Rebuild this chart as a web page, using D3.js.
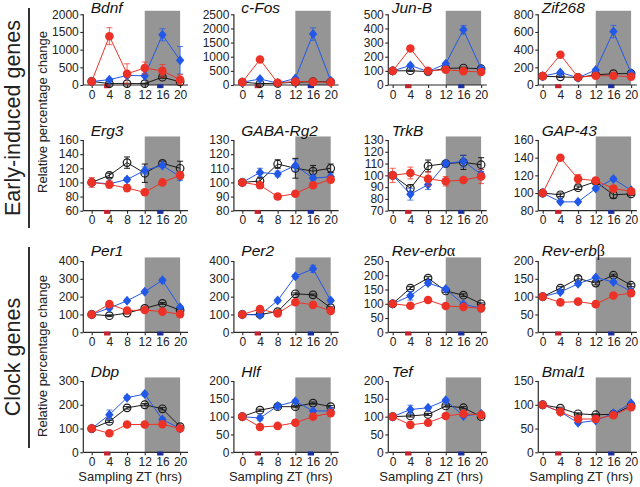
<!DOCTYPE html>
<html><head><meta charset="utf-8">
<script src="https://cdn.jsdelivr.net/npm/d3@7"></script>
<style>
body{margin:0;background:#fff}
svg{display:block;font-family:"Liberation Sans",Arial,Helvetica,sans-serif}
</style>
</head><body><svg id="c" width="640" height="487"></svg>
<script>
// ---------------- DATA ----------------
const hours = [0, 4, 8, 12, 16, 20];
const genes = ["Bdnf","c-Fos","Jun-B","Zif268","Erg3","GABA-Rg2","TrkB","GAP-43",
               "Per1","Per2","Rev-erbα","Rev-erbβ","Dbp","Hlf","Tef","Bmal1"];
const yMin  = [0,0,0,0, 60,80,70,80, 0,0,0,0, 0,0,0,0];
const yMax  = [2000,2500,500,800, 160,130,130,160, 400,400,250,200, 300,200,200,150];
const yStep = [500,500,100,200, 20,10,10,20, 100,100,50,50, 100,50,50,50];
const xTickLabels = ["0","4","8","12","16","20"];
const darkPeriod = [12, 20];
const redMarkHours = [2.8, 4.1];
const blueMarkHours = [14.8, 16.1];
const groupLabels = ["Early-induced genes", "Clock genes"];
const yLabel = "Relative percentage change";
const xLabel = "Sampling ZT (hrs)";

const blackVals = [
 [100,40,40,40,220,90],[100,50,60,100,120,110],[100,101,95,118,120,115],[100,92,85,115,128,130],
 [100,110,128,113,127,120],[100,101,113,110,108,110],[100,89,108,110,111,109],[100,98,106,113,98,99],
 [100,93,108,134,162,124],[100,100,116,216,210,138],[100,155,190,145,130,100],[100,124,151,138,160,132],
 [100,130,187,200,183,108],[100,118,128,128,138,128],[100,102,106,130,125,100],[100,93,81,79,80,98]];
const blackErr = [
 [10,10,10,10,30,20],[10,10,10,10,15,10],[5,5,5,5,6,5],[5,8,5,5,8,5],
 [3,3,8,13,3,10],[1,2,3,7,4,3],[2,3,5,2,6,6],[2,2,2,3,4,2],
 [3,5,5,5,5,5],[3,3,5,5,5,5],[3,5,5,5,5,3],[2,4,7,5,3,4],
 [3,5,5,5,5,3],[2,3,3,3,3,3],[2,3,3,3,3,3],[2,2,2,2,2,2]];
const redVals = [
 [100,1380,320,480,400,150],[100,900,80,120,110,100],[100,258,100,108,98,92],[100,342,88,105,105,95],
 [100,97,92,86,100,110],[100,98,90,92,98,102],[100,102,97,95,96,99],[100,140,116,114,105,102],
 [100,158,122,125,116,102],[100,130,106,169,154,120],[100,93,113,92,89,84],[100,84,86,79,103,110],
 [100,80,117,117,118,100],[100,71,74,83,100,110],[100,77,83,102,108,105],[100,85,70,70,78,95]];
const redErr = [
 [30,240,280,170,180,140],[15,40,15,20,15,15],[5,8,5,5,5,5],[8,15,8,8,8,8],
 [7,5,5,2,2,5],[1,2,2,1,1,2],[6,5,6,4,2,6],[2,2,5,2,3,2],
 [3,8,5,5,5,3],[3,5,5,8,5,5],[3,5,5,3,3,3],[2,3,3,2,3,3],
 [3,3,3,3,3,3],[2,2,2,2,2,2],[2,2,2,2,2,2],[2,2,6,6,2,2]];
const blueVals = [
 [100,150,270,260,1420,700],[100,210,70,230,1800,150],[100,138,95,150,390,115],[100,142,82,170,605,135],
 [100,98,104,117,124,108],[100,107,106,112,103,104],[100,84,92,110,112,101],[100,90,90,105,116,103],
 [100,136,177,228,292,141],[100,97,178,314,356,178],[100,128,173,152,98,85],[100,113,136,154,141,115],
 [100,158,230,245,138,100],[100,96,130,143,116,116],[100,120,125,146,102,108],[100,85,62,67,82,103]];
const blueErr = [
 [10,40,50,40,170,390],[10,40,15,30,220,30],[5,10,5,8,30,8],[5,12,8,10,70,10],
 [3,3,3,5,3,5],[1,3,2,4,2,2],[2,5,4,2,5,4],[1,1,1,2,2,2],
 [3,5,8,8,10,8],[3,5,8,10,20,8],[3,15,8,5,5,3],[2,5,5,4,4,4],
 [3,20,8,8,8,3],[2,6,5,4,4,4],[2,12,4,4,3,4],[2,2,3,3,2,3]];

// ---------------- LAYOUT ----------------
const colX0 = [91.7, 242.3, 392.7, 542.7];
const plotW = 88.4;
const axisLeftHr = [-1.9, -1.9, -1.0, -1.0];
const axisRightHr = [21.8, 21.8, 21.3, 21.3];
const rowTop = [14.3, 140, 261, 381];
const rowBottom = [85, 210.7, 332.3, 452.3];
const titleY = [12.5, 135.5, 256.2, 376.5];

const RED = "#ec3226", BLUE = "#2258e8", BLACK = "#1a1a1a", AX = "#2a2a2a";

const svg = d3.select("#c");

genes.forEach((g, i) => {
  const r = Math.floor(i / 4), c = i % 4;
  const x = d3.scaleLinear().domain([0, 20]).range([colX0[c], colX0[c] + plotW]);
  const y = d3.scaleLinear().domain([yMin[i], yMax[i]]).range([rowBottom[r], rowTop[r]]);
  const top = yMax[i] + 0.05 * (yMax[i] - yMin[i]);
  const p = svg.append("g");

  // dark period shading
  p.append("rect").attr("x", x(darkPeriod[0])).attr("width", x(darkPeriod[1]) - x(darkPeriod[0]))
    .attr("y", y(top)).attr("height", y(yMin[i]) - y(top)).attr("fill", "#959595");

  const ax0 = x(axisLeftHr[c]);
  // y axis
  const ya = p.append("g").attr("transform", `translate(${ax0},0)`)
    .call(d3.axisLeft(y).tickValues(d3.range(yMin[i], yMax[i] + yStep[i] / 2, yStep[i]))
      .tickSize(3).tickPadding(1.5).tickFormat(d3.format("d")));
  ya.select(".domain").remove();
  ya.selectAll("line").attr("stroke", AX).attr("stroke-width", 1.1);
  ya.selectAll("text").attr("font-size", 12).attr("fill", "#222")
    .attr("font-family", '"Liberation Sans",Arial,sans-serif');
  p.append("line").attr("x1", ax0).attr("x2", ax0).attr("y1", y(yMin[i])).attr("y2", y(yMax[i]))
    .attr("stroke", AX).attr("stroke-width", 1.2);

  // x axis
  const xa = p.append("g").attr("transform", `translate(0,${y(yMin[i])})`)
    .call(d3.axisBottom(x).tickValues(hours).tickSize(3).tickPadding(2)
      .tickFormat((d, k) => xTickLabels[k]));
  xa.select(".domain").remove();
  xa.selectAll("line").attr("stroke", AX).attr("stroke-width", 1.1);
  xa.selectAll("text").attr("font-size", 12).attr("fill", "#222")
    .attr("font-family", '"Liberation Sans",Arial,sans-serif');
  p.append("line").attr("x1", ax0).attr("x2", x(axisRightHr[c])).attr("y1", y(yMin[i])).attr("y2", y(yMin[i]))
    .attr("stroke", AX).attr("stroke-width", 1.2);

  // stimulation marks
  const by = y(yMin[i]);
  p.append("rect").attr("x", x(redMarkHours[0])).attr("width", x(redMarkHours[1]) - x(redMarkHours[0]))
    .attr("y", by - 0.8).attr("height", 4).attr("fill", "#c8202c");
  p.append("rect").attr("x", x(blueMarkHours[0])).attr("width", x(blueMarkHours[1]) - x(blueMarkHours[0]))
    .attr("y", by - 0.8).attr("height", 4).attr("fill", "#1c2fa0");

  // title
  const t = p.append("text").attr("x", colX0[c] - 1).attr("y", titleY[r])
    .attr("font-size", 15.5).attr("font-style", "italic").attr("fill", "#111");
  const m = g.match(/^(.*?)([αβ])$/);
  if (m) {
    t.append("tspan").text(m[1]);
    t.append("tspan").text(m[2]).attr("font-style", "normal")
      .attr("font-family", '"Liberation Serif","DejaVu Serif",serif').attr("font-size", 16);
  } else t.text(g);

  // series
  const series = [
    {vals: blackVals[i], err: blackErr[i], color: BLACK, shape: "open"},
    {vals: blueVals[i], err: blueErr[i], color: BLUE, shape: "diamond"},
    {vals: redVals[i], err: redErr[i], color: RED, shape: "circle"}
  ];
  series.forEach(s => {
    const pts = hours.map((h, k) => ({h, v: s.vals[k], e: s.err[k]}));
    p.append("path").datum(pts)
      .attr("d", d3.line().x(d => x(d.h)).y(d => y(d.v)))
      .attr("fill", "none").attr("stroke", s.color).attr("stroke-width", 1);
    const eb = p.append("g").attr("stroke", s.color).attr("stroke-width", 1)
      .attr("stroke-opacity", s.shape === "open" ? 1 : 0.75);
    pts.forEach(d => {
      const y1 = y(d.v - d.e), y2 = y(d.v + d.e), xx = x(d.h);
      eb.append("line").attr("x1", xx).attr("x2", xx).attr("y1", y1).attr("y2", y2);
      eb.append("line").attr("x1", xx - 3).attr("x2", xx + 3).attr("y1", y1).attr("y2", y1);
      eb.append("line").attr("x1", xx - 3).attr("x2", xx + 3).attr("y1", y2).attr("y2", y2);
    });
    if (s.shape === "open") {
      p.selectAll(null).data(pts).join("circle")
        .attr("cx", d => x(d.h)).attr("cy", d => y(d.v)).attr("r", 3.8)
        .attr("fill", "none").attr("stroke", s.color).attr("stroke-width", 1.2);
    } else if (s.shape === "circle") {
      p.selectAll(null).data(pts).join("circle")
        .attr("cx", d => x(d.h)).attr("cy", d => y(d.v)).attr("r", 4.3).attr("fill", s.color);
    } else {
      p.selectAll(null).data(pts).join("path")
        .attr("transform", d => `translate(${x(d.h)},${y(d.v)})`)
        .attr("d", "M0,-5L4.2,0L0,5L-4.2,0Z").attr("fill", s.color);
    }
  });

  // x label under bottom row
  if (r === 3) {
    p.append("text").attr("x", colX0[c] + 38.5).attr("y", 481).attr("text-anchor", "middle")
      .attr("font-size", 13).attr("fill", "#222").text(xLabel);
  }
});

// y labels and group labels
[112, 356].forEach((cy, k) => {
  svg.append("text").attr("transform", `translate(47,${cy}) rotate(-90)`)
    .attr("text-anchor", "middle").attr("font-size", 13).attr("fill", "#222").text(yLabel);
});
const groupSpan = [[8, 228], [247, 448]];
const groupCenter = [118, 357];
groupLabels.forEach((lab, k) => {
  svg.append("line").attr("x1", 29).attr("x2", 29).attr("y1", groupSpan[k][0]).attr("y2", groupSpan[k][1])
    .attr("stroke", "#333").attr("stroke-width", 2);
  svg.append("text").attr("transform", `translate(19.5,${groupCenter[k]}) rotate(-90)`)
    .attr("text-anchor", "middle").attr("font-size", 21.5).attr("fill", "#222").text(lab);
});
</script></body></html>
